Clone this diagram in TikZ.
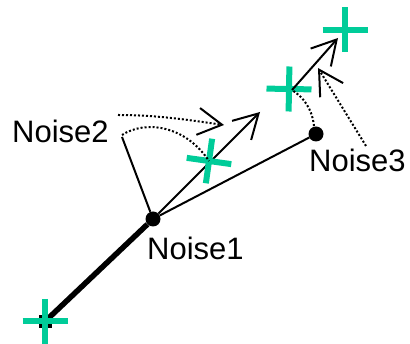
\documentclass[tikz,border=0pt]{standalone}
\usepackage{fontspec}
\setmainfont{Liberation Sans}
\usetikzlibrary{arrows.meta}
\definecolor{plusgreen}{RGB}{0,204,153}
\begin{document}
\begin{tikzpicture}[x=1pt,y=-1pt,
  thinline/.style={line width=2pt, black},
  thickline/.style={line width=5.5pt, black},
  dotline/.style={line width=2pt, black, dash pattern=on 2pt off 2pt},
  arr/.style={-{Straight Barb[length=24pt,width=27pt]}},
  dot/.style={circle, fill=black, inner sep=0pt, minimum size=15pt},
  sqdot/.style={rectangle, fill=black, inner sep=0pt, minimum size=13pt},
  lbl/.style={inner sep=0pt, anchor=base west, font=\fontsize{31}{31}\selectfont},
  gplus/.pic={\draw[line width=6pt, plusgreen] (-22.5,0) -- (22.5,0) (0,-22.5) -- (0,22.5);}
]
\useasboundingbox (0,0) rectangle (410,344);

% positions
\coordinate (P0) at (45,321.5);
\coordinate (P1) at (209,161);
\coordinate (P2) at (289,89);
\coordinate (P3) at (345,30);
\coordinate (A1) at (260,112);
\coordinate (A2s) at (292,90);
\coordinate (A2) at (338,38);
\coordinate (N2a) at (122,137);
\coordinate (N2b) at (122,135);
\coordinate (N2c) at (118,115);
\coordinate (N2t) at (224,125);
\coordinate (N3a) at (366,146);
\coordinate (N3t) at (318,68);
\coordinate (N3b) at (314,126);

% dots and labels
\node[dot] (N1) at (153,219) {};
\node[dot] (N3) at (316,134) {};
\node[sqdot] (D0) at (P0) {};
\node[lbl] (L2) at (12,143) {Noise2};
\node[lbl] (L1) at (147,260) {Noise1};
\node[lbl] (L3) at (309,172) {Noise3};

% solid connectors
\draw[thickline] (P0) -- (N1);
\draw[thinline] (N1) -- (N3);
\draw[thinline] (N2a) -- (N1);
\draw[thinline, arr] (N1) -- (A1);

% crosses
\pic at (P0) {gplus};
\pic[rotate=-8] at (P1) {gplus};
\pic[rotate=-1] at (P2) {gplus};
\pic at (P3) {gplus};

\draw[thinline, arr] (A2s) -- (A2);

% dotted connectors
\draw[dotline] (N2b) .. controls (145,120) and (185,125) .. (P1);
\draw[dotline, arr] (N2c) .. controls (160,115) and (195,121) .. (N2t);
\draw[dotline] (N3b) .. controls (312,108) and (303,97) .. (A2s);
\draw[dotline, arr] (N3a) -- (N3t);
\end{tikzpicture}
\end{document}
